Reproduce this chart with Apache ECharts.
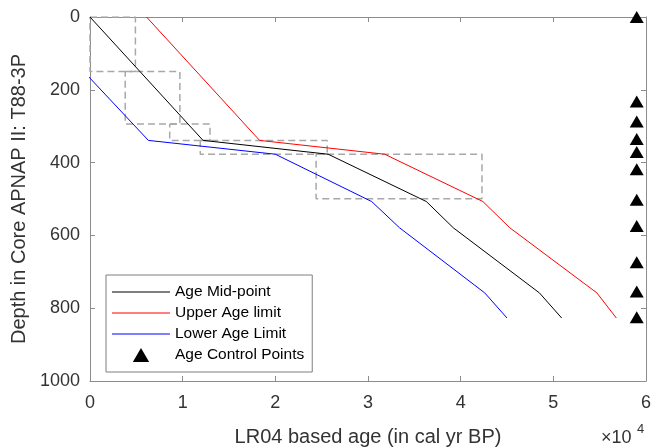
<!DOCTYPE html>
<html>
<head>
<meta charset="utf-8">
<script src="https://cdn.jsdelivr.net/npm/echarts@6/dist/echarts.min.js"></script>
<style>
  html, body { margin: 0; padding: 0; background: #fff; }
  #box1 { width: 651px; height: 448px; }
</style>
</head>
<body>
<div id="box1"></div>
<script>
// depths of the tie points (cm) shared by the three age curves
var depths = [0, 339, 377, 507, 579, 758, 827];
var midAge = [0, 12200, 25700, 36300, 39200, 48500, 50900];
var upperAge = [6100, 18300, 31800, 42400, 45300, 54700, 56800];
// first point lies left of the axis, gets clipped at 0
var lowerAge = [-6200, 6300, 20000, 30400, 33400, 42600, 45000];

// age control points drawn on the right edge
var controlAge = 59000;
var controlDepths = [0, 232, 287, 335, 371, 418, 502, 574, 674, 754, 825];

// dashed uncertainty boxes
var boxAgeMin = [0, 3800, 8600, 11900, 24400];
var boxAgeMax = [4900, 9700, 12950, 25600, 42300];
var boxDepthTop = [0, 150, 294, 339, 377];
var boxDepthBottom = [150, 294, 339, 377, 499];

var xTicks = [0, 10000, 20000, 30000, 40000, 50000, 60000];
var yTicks = [0, 200, 400, 600, 800, 1000];

var dom = document.getElementById("box1");
var myChart = echarts.init(dom);

function pairs(xs, ys) {
  return xs.map(function (x, i) { return [x, ys[i]]; });
}

var axisGray = '#8c8c8c';
var textGray = '#333333';
// plain line icon for the legend (no circle in the middle)
var lineIcon = 'path://M0,0L58,0L58,1.2L0,1.2Z';

var boxSeries = boxAgeMin.map(function (x0, i) {
  var x1 = boxAgeMax[i], y0 = boxDepthTop[i], y1 = boxDepthBottom[i];
  return {
    type: 'line',
    silent: true,
    symbol: 'none',
    z: 1,
    lineStyle: { color: '#a8a8a8', width: 1.5, type: [7, 4] },
    data: [[x0, y0], [x1, y0], [x1, y1], [x0, y1], [x0, y0]]
  };
});

var option = {
  animation: false,
  textStyle: { fontFamily: 'Liberation Sans, Arial, sans-serif' },
  grid: { left: 90, right: 5, top: 17, bottom: 67, outerBoundsMode: 'none' },
  legend: {
    orient: 'vertical',
    left: 106,
    top: 275,
    padding: [9, 8, 9, 6],
    itemWidth: 58,
    itemHeight: 14,
    itemGap: 5,
    borderColor: '#7f7f7f',
    borderWidth: 1,
    backgroundColor: '#fff',
    selectedMode: false,
    textStyle: { fontSize: 15.5, color: '#000' },
    data: [
      { name: 'Age Mid-point', icon: lineIcon },
      { name: 'Upper Age limit', icon: lineIcon },
      { name: 'Lower Age Limit', icon: lineIcon },
      { name: 'Age Control Points', icon: 'path://M0,12L7,0L14,12Z' }
    ]
  },
  xAxis: [
    {
      type: 'value',
      position: 'bottom',
      min: xTicks[0],
      max: xTicks[xTicks.length - 1],
      interval: 10000,
      name: 'LR04 based age (in cal yr BP)',
      nameLocation: 'middle',
      nameGap: 46,
      nameTextStyle: { fontSize: 20, color: textGray },
      axisLine: { onZero: false, lineStyle: { color: axisGray } },
      axisTick: { inside: true, length: 5, lineStyle: { color: axisGray } },
      splitLine: { show: false },
      axisLabel: {
        fontSize: 18, color: textGray, margin: 13,
        formatter: function (v) { return String(v / 10000); }
      }
    },
    {
      type: 'value',
      position: 'top',
      min: xTicks[0],
      max: xTicks[xTicks.length - 1],
      interval: 10000,
      axisLine: { onZero: false, lineStyle: { color: axisGray } },
      axisTick: { inside: true, length: 5, lineStyle: { color: axisGray } },
      splitLine: { show: false },
      axisLabel: { show: false }
    }
  ],
  yAxis: [
    {
      type: 'value',
      position: 'left',
      inverse: true,
      min: yTicks[0],
      max: yTicks[yTicks.length - 1],
      interval: 200,
      name: 'Depth in Core APNAP II: T88-3P',
      nameLocation: 'middle',
      nameGap: 56,
      nameTextStyle: { fontSize: 20, color: textGray },
      axisLine: { show: true, onZero: false, lineStyle: { color: axisGray } },
      axisTick: { show: true, inside: true, length: 5, lineStyle: { color: axisGray } },
      splitLine: { show: false },
      axisLabel: {
        fontSize: 18, color: textGray, margin: 10,
        formatter: function (v) { return String(v); }
      }
    },
    {
      type: 'value',
      position: 'right',
      inverse: true,
      min: yTicks[0],
      max: yTicks[yTicks.length - 1],
      interval: 200,
      axisLine: { show: true, onZero: false, lineStyle: { color: axisGray } },
      axisTick: { show: true, inside: true, length: 5, lineStyle: { color: axisGray } },
      splitLine: { show: false },
      axisLabel: { show: false }
    }
  ],
  graphic: [
    { type: 'text', left: 601, top: 429, style: { text: '\u00d710', fontSize: 18, fill: textGray, fontFamily: 'Liberation Sans' } },
    { type: 'text', left: 637, top: 423, style: { text: '4', fontSize: 13, fill: textGray, fontFamily: 'Liberation Sans' } }
  ],
  series: boxSeries.concat([
    {
      name: 'Age Mid-point',
      type: 'line',
      symbol: 'none',
      z: 3,
      color: '#000',
      lineStyle: { color: '#000', width: 1 },
      data: pairs(midAge, depths)
    },
    {
      name: 'Upper Age limit',
      type: 'line',
      symbol: 'none',
      z: 3,
      color: '#ff0000',
      lineStyle: { color: '#ff0000', width: 1 },
      data: pairs(upperAge, depths)
    },
    {
      name: 'Lower Age Limit',
      type: 'line',
      symbol: 'none',
      z: 3,
      color: '#0000ff',
      lineStyle: { color: '#0000ff', width: 1 },
      data: pairs(lowerAge, depths)
    },
    {
      name: 'Age Control Points',
      type: 'scatter',
      symbol: 'triangle',
      symbolSize: [14, 12],
      clip: false,
      z: 4,
      itemStyle: { color: '#000', opacity: 1 },
      data: controlDepths.map(function (d) { return [controlAge, d]; })
    }
  ])
};

if (option && typeof option === 'object') {
  myChart.setOption(option);
}
</script>
</body>
</html>
